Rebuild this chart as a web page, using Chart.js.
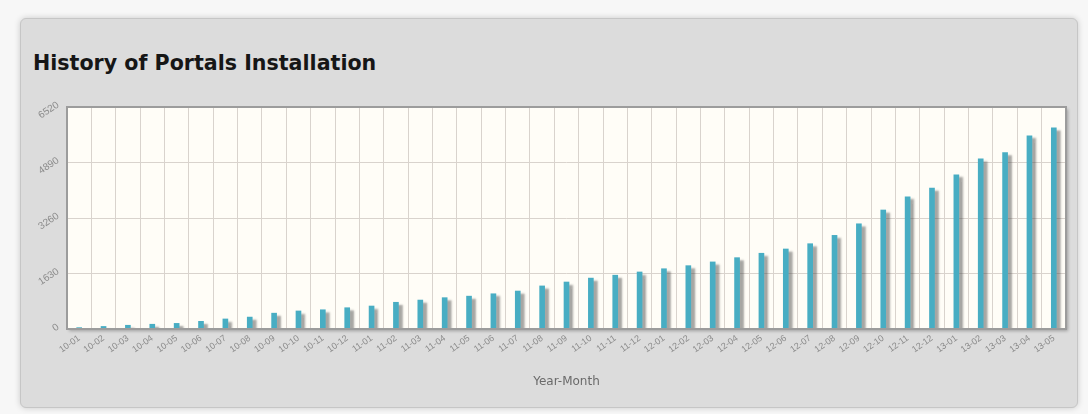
<!DOCTYPE html>
<html>
<head>
<meta charset="utf-8">
<script src="https://cdn.jsdelivr.net/npm/chart.js@4"></script>
<style>
  html, body { margin: 0; padding: 0; width: 1088px; height: 414px; overflow: hidden; background: #f7f7f7; }
  #panel { position: absolute; left: 20px; top: 18px; width: 1056px; height: 388px; background: #dcdcdc;
           border: 1px solid #c6c6c6; border-radius: 6px; box-shadow: 0 0 6px rgba(0,0,0,0.18); }
  #title { position: absolute; left: 33px; top: 51px; margin: 0; font: bold 20.6px "DejaVu Sans", sans-serif;
           line-height: 24px; color: #161616; letter-spacing: 0px; }
  #c { position: absolute; left: 0; top: 0; }
</style>
</head>
<body>
<div id="panel"></div>
<h1 id="title">History of Portals Installation</h1>
<canvas id="c" width="1088" height="414"></canvas>
<script>
const categories = ["10-01","10-02","10-03","10-04","10-05","10-06","10-07","10-08","10-09","10-10","10-11","10-12",
  "11-01","11-02","11-03","11-04","11-05","11-06","11-07","11-08","11-09","11-10","11-11","11-12",
  "12-01","12-02","12-03","12-04","12-05","12-06","12-07","12-08","12-09","12-10","12-11","12-12",
  "13-01","13-02","13-03","13-04","13-05"];
const installations = [40, 75, 110, 140, 165, 225, 295, 350, 465, 530, 565, 625,
  675, 785, 850, 920, 965, 1035, 1115, 1265, 1380, 1495, 1580, 1675,
  1770, 1860, 1970, 2095, 2225, 2350, 2505, 2750, 3090, 3495, 3885, 4140,
  4530, 5000, 5180, 5675, 5905];
const yTicks = [0, 1630, 3260, 4890, 6520];
const xTitle = "Year-Month";

const plotDecor = {
  id: 'plotDecor',
  beforeDraw(chart) {
    const {ctx, chartArea: a} = chart;
    ctx.save();
    ctx.shadowColor = 'rgba(0,0,0,0.28)';
    ctx.shadowOffsetX = 2; ctx.shadowOffsetY = 2; ctx.shadowBlur = 3;
    ctx.fillStyle = '#fffdf7';
    ctx.fillRect(a.left, a.top, a.right - a.left, a.bottom - a.top);
    ctx.restore();
  },
  beforeDatasetsDraw(chart) {
    const ctx = chart.ctx;
    ctx.save();
    ctx.shadowColor = 'rgba(60,60,60,0.45)';
    ctx.shadowOffsetX = 4; ctx.shadowOffsetY = 3; ctx.shadowBlur = 2;
  },
  afterDatasetsDraw(chart) {
    const {ctx, chartArea: a, scales} = chart;
    ctx.restore();
    ctx.save();
    ctx.strokeStyle = '#9c9c9c';
    ctx.lineWidth = 2;
    ctx.strokeRect(a.left, a.top, a.right - a.left, a.bottom - a.top);
    ctx.fillStyle = '#8a8a8a';
    ctx.font = '10px "Liberation Sans", sans-serif';
    ctx.textAlign = 'right';
    ctx.textBaseline = 'middle';
    const ys = scales.y;
    ys.ticks.forEach(t => {
      const py = ys.getPixelForValue(t.value);
      ctx.save();
      ctx.translate(a.left - 9, py - 3);
      ctx.rotate(-34 * Math.PI / 180);
      ctx.fillText(String(t.value), 0, 0);
      ctx.restore();
    });
    ctx.restore();
  }
};

new Chart(document.getElementById('c'), {
  type: 'bar',
  data: {
    labels: categories,
    datasets: [{
      data: installations,
      backgroundColor: '#48adc3',
      borderWidth: 0,
      barThickness: 5
    }]
  },
  options: {
    responsive: false,
    animation: false,
    devicePixelRatio: 1,
    layout: { padding: { left: 0, right: 22, top: 107, bottom: 21 } },
    plugins: { legend: { display: false }, tooltip: { enabled: false } },
    scales: {
      x: {
        grid: { color: '#d9d3cd', lineWidth: 1, offset: true, drawTicks: false },
        border: { display: false },
        ticks: { color: '#8a8a8a', font: { family: '"Liberation Sans", sans-serif', size: 9 },
                 minRotation: 35, maxRotation: 35, autoSkip: false, padding: 4 },
        title: { display: true, text: xTitle, color: '#6a6a6a',
                 font: { family: '"DejaVu Sans", sans-serif', size: 12 }, padding: { top: 4, bottom: 4 } },
        afterFit(s) { s.height = 64; }
      },
      y: {
        min: 0, max: 6520,
        afterBuildTicks(s) { s.ticks = yTicks.map(v => ({ value: v })); },
        grid: { color: '#d9d3cd', lineWidth: 1, drawTicks: false },
        border: { display: false },
        ticks: { display: false },
        afterFit(s) { s.width = 67; }
      }
    }
  },
  plugins: [plotDecor]
});
</script>
</body>
</html>
